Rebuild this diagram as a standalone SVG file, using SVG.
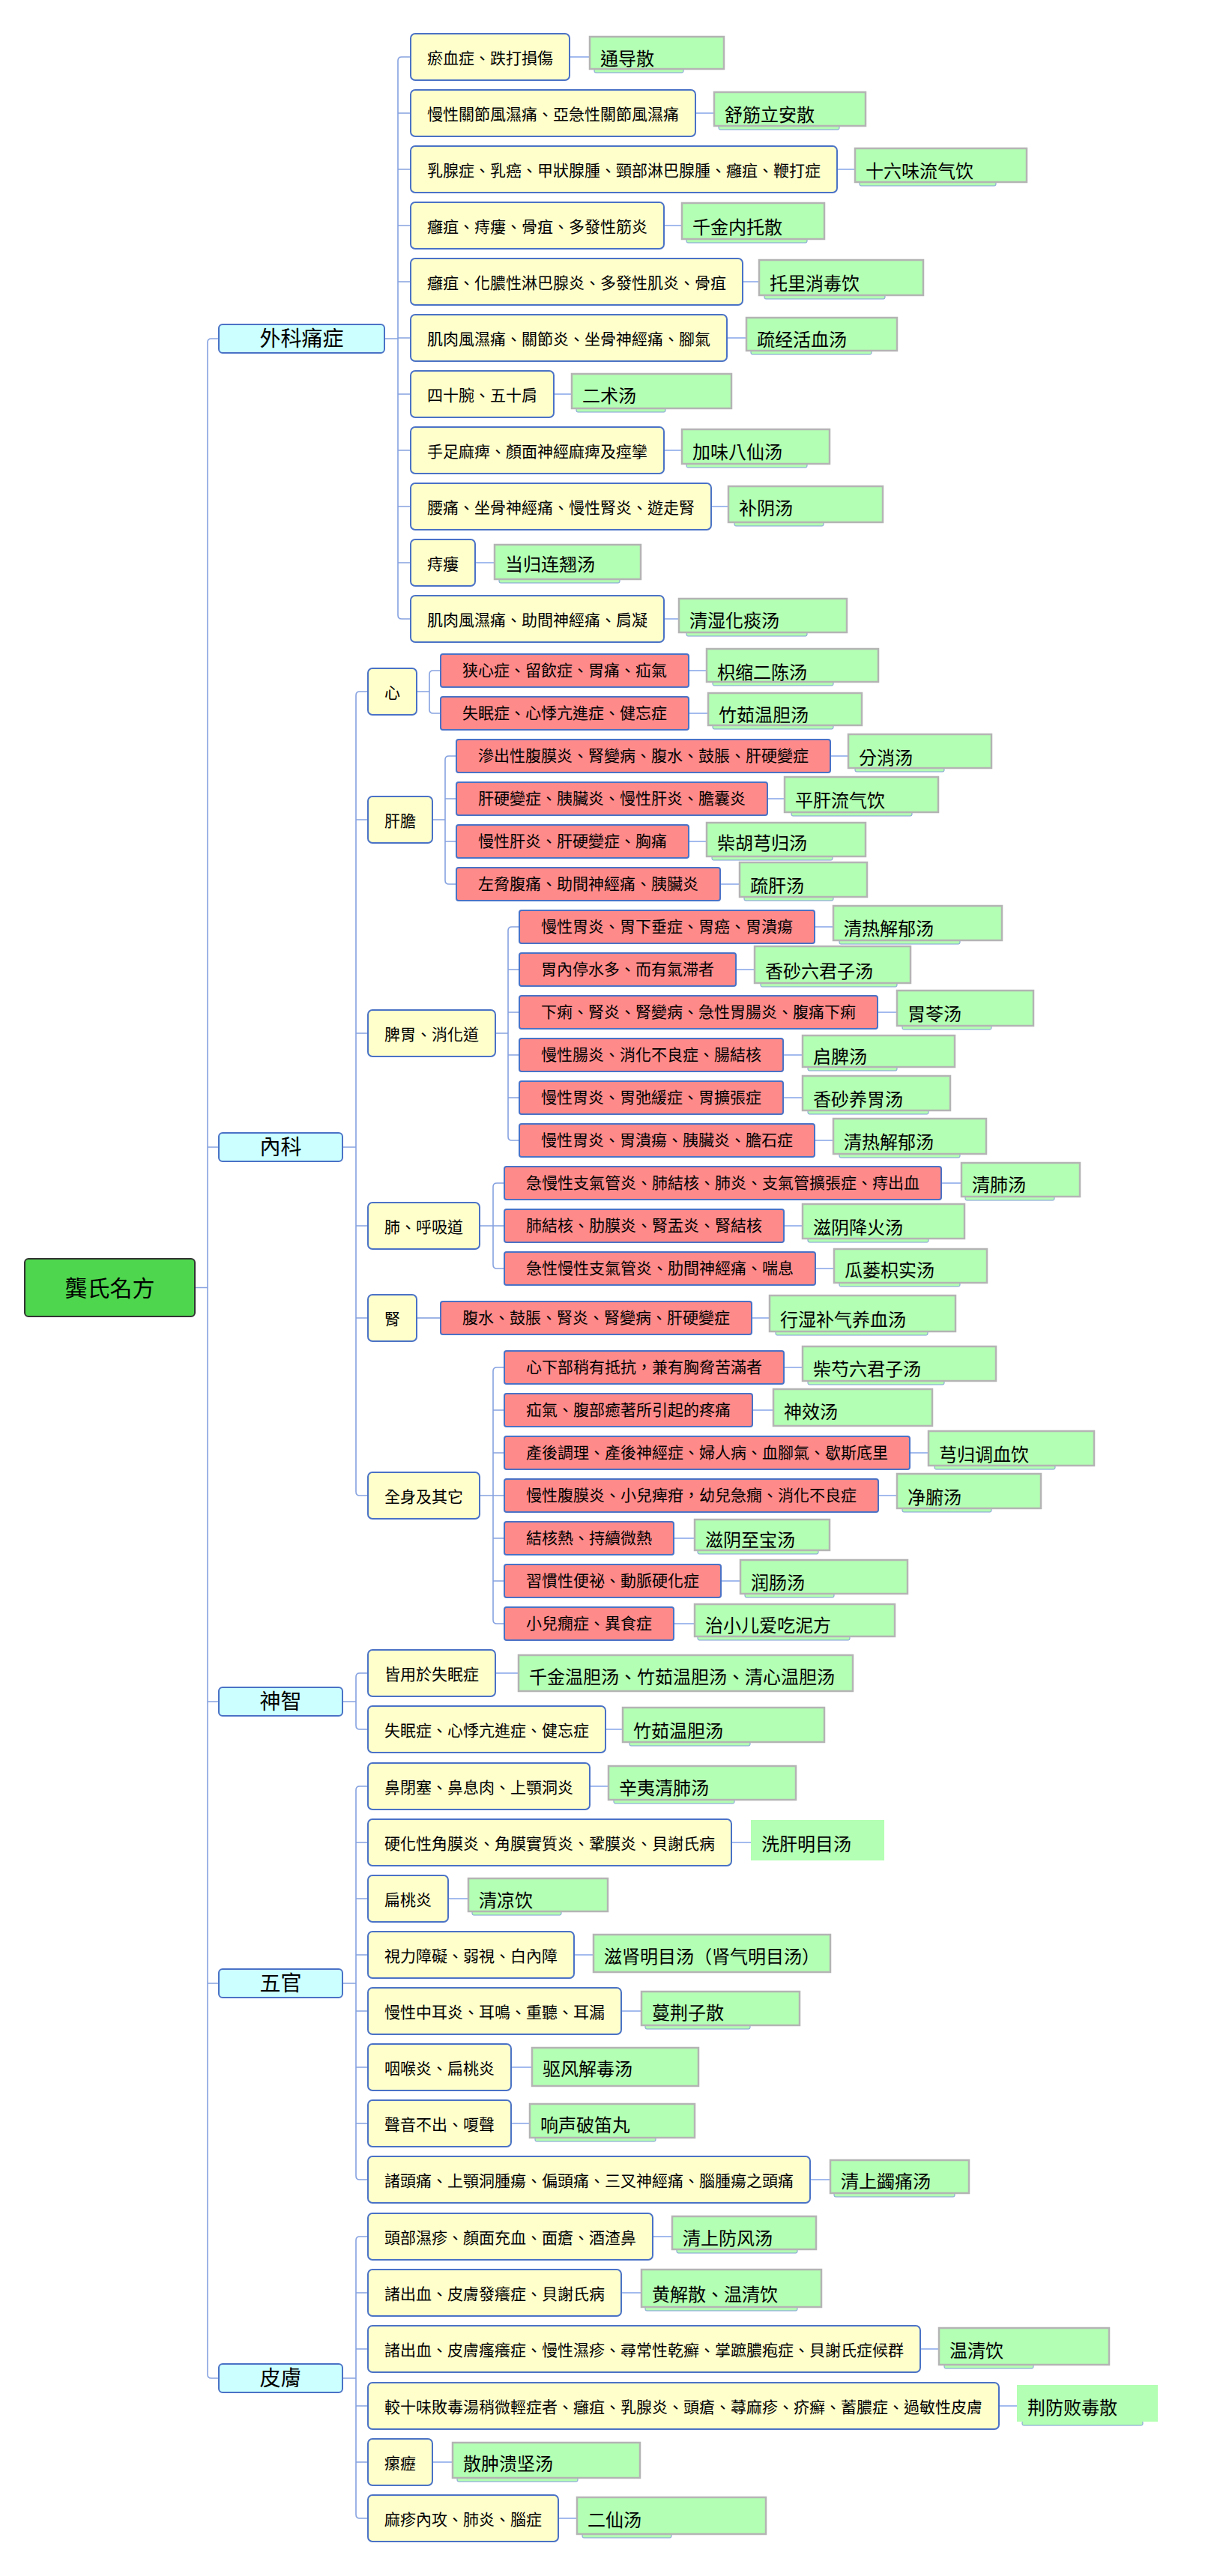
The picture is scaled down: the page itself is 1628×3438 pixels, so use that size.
<svg xmlns="http://www.w3.org/2000/svg" width="1628" height="3438" viewBox="0 0 1628 3438">
<style>
text{font-family:"Noto Sans CJK TC","Noto Sans CJK SC",sans-serif;fill:#000}
.f21{font-size:21px}.f24{font-size:24px}.f28{font-size:28px}.f30{font-size:30px}
.y{fill:#ffffcc;stroke:#4a72c6;stroke-width:2}
.r{fill:#ff8a8a;stroke:#4a72c6;stroke-width:2}
.cy{fill:#ccffff;stroke:#4a72c6;stroke-width:2}
.rt{fill:#4ed64e;stroke:#333;stroke-width:2}
.g{fill:#b3ffb3;stroke:#b4b4b4;stroke-width:2.5}
.gn{fill:#b3ffb3}
.bar{fill:#b3ffb3;stroke:#7f9bd6;stroke-width:1}
.c{fill:none;stroke:#86a2e0;stroke-width:1.6}
.lk{fill:none;stroke:#a3bbee;stroke-width:2}
.m{text-anchor:middle}
</style>
<rect width="1628" height="3438" fill="#fff"/>
<g id="connectors">
<path class="c" d="M292,452 H282 Q277,452 277,457 V3169 Q277,3174 282,3174 H292 M277,1531 H292 M277,2271 H292 M277,2647 H292 M260,1718.5 H277"/>
<path class="c" d="M548,76 H536 Q531,76 531,81 V821 Q531,826 536,826 H548 M531,151 H548 M531,226 H548 M531,301 H548 M531,376 H548 M531,451 H548 M531,526 H548 M531,601 H548 M531,676 H548 M531,751 H548 M513,452 H531"/>
<path class="c" d="M491,923 H480 Q475,923 475,928 V1991 Q475,1996 480,1996 H491 M475,1094 H491 M475,1379 H491 M475,1636 H491 M475,1759 H491 M457,1531 H475"/>
<path class="c" d="M588,895 H578 Q573,895 573,900 V947 Q573,952 578,952 H588 M556,923 H573"/>
<path class="c" d="M609,1009 H599 Q594,1009 594,1014 V1175 Q594,1180 599,1180 H609 M594,1066 H609 M594,1123 H609 M577,1094 H594"/>
<path class="c" d="M693,1237 H683 Q678,1237 678,1242 V1517 Q678,1522 683,1522 H693 M678,1294 H693 M678,1351 H693 M678,1408 H693 M678,1465 H693 M661,1379 H678"/>
<path class="c" d="M673,1579 H663 Q658,1579 658,1584 V1688 Q658,1693 663,1693 H673 M640,1636 H673"/>
<path class="c" d="M556,1759 H588"/>
<path class="c" d="M673,1825 H663 Q658,1825 658,1830 V2162 Q658,2167 663,2167 H673 M658,1882 H673 M658,1939 H673 M658,1996 H673 M658,2053 H673 M658,2110 H673 M640,1996 H658"/>
<path class="c" d="M491,2233 H480 Q475,2233 475,2238 V2303 Q475,2308 480,2308 H491 M457,2271 H475"/>
<path class="c" d="M491,2384 H480 Q475,2384 475,2389 V2904 Q475,2909 480,2909 H491 M475,2459 H491 M475,2534 H491 M475,2609 H491 M475,2684 H491 M475,2759 H491 M475,2834 H491 M457,2647 H475"/>
<path class="c" d="M491,2985 H480 Q475,2985 475,2990 V3356 Q475,3361 480,3361 H491 M475,3060 H491 M475,3135 H491 M475,3211 H491 M475,3286 H491 M457,3174 H475"/>
<path class="lk" d="M760,76 H787 M928,151 H953 M1117,226 H1141 M886,301 H910 M991,376 H1013 M970,451 H996 M739,526 H763 M886,601 H910 M949,676 H972 M634,751 H660 M886,826 H906"/>
<path class="lk" d="M919,895 H943 M919,952 H945 M1108,1009 H1132 M1024,1066 H1047 M919,1123 H943 M961,1180 H987 M1087,1237 H1112 M982,1294 H1007 M1171,1351 H1197 M1045,1408 H1071 M1045,1465 H1071 M1087,1522 H1112 M1256,1579 H1283 M1046,1636 H1071 M1088,1693 H1113 M1003,1759 H1027 M1046,1825 H1071 M1004,1882 H1032 M1214,1939 H1239 M1172,1996 H1197 M899,2053 H927 M962,2110 H988 M899,2167 H927"/>
<path class="lk" d="M661,2233 H692 M808,2308 H831 M787,2384 H812 M976,2459 H1002 M598,2534 H625 M766,2609 H792 M829,2684 H856 M682,2759 H710 M682,2834 H707 M1081,2909 H1108 M871,2985 H897 M829,3060 H856 M1228,3135 H1253 M1333,3211 H1357 M577,3286 H604 M745,3361 H770"/>
</g>
<g id="root"><rect class="rt" x="33" y="1680" width="227" height="77" rx="5"/><text class="f30 m" x="146.5" y="1729.5">龔氏名方</text></g>
<g id="waike"><rect class="cy" x="292" y="433" width="221" height="38" rx="5"/><text class="f28 m" x="402.5" y="462">外科痛症</text></g>
<g id="neike"><rect class="cy" x="292" y="1512" width="165" height="38" rx="5"/><text class="f28 m" x="374.5" y="1541">內科</text></g>
<g id="shenzhi"><rect class="cy" x="292" y="2252" width="165" height="38" rx="5"/><text class="f28 m" x="374.5" y="2281">神智</text></g>
<g id="wuguan"><rect class="cy" x="292" y="2628" width="165" height="38" rx="5"/><text class="f28 m" x="374.5" y="2657">五官</text></g>
<g id="pifu"><rect class="cy" x="292" y="3155" width="165" height="38" rx="5"/><text class="f28 m" x="374.5" y="3184">皮膚</text></g>

<g id="w0"><rect class="y" x="548" y="45" width="212" height="62" rx="6"/><text class="f21" x="570" y="85">瘀血症、跌打損傷</text></g>
<g id="w1"><rect class="y" x="548" y="120" width="380" height="62" rx="6"/><text class="f21" x="570" y="160">慢性關節風濕痛、亞急性關節風濕痛</text></g>
<g id="w2"><rect class="y" x="548" y="195" width="569" height="62" rx="6"/><text class="f21" x="570" y="235">乳腺症、乳癌、甲狀腺腫、頸部淋巴腺腫、癰疽、鞭打症</text></g>
<g id="w3"><rect class="y" x="548" y="270" width="338" height="62" rx="6"/><text class="f21" x="570" y="310">癰疽、痔瘻、骨疽、多發性筋炎</text></g>
<g id="w4"><rect class="y" x="548" y="345" width="443" height="62" rx="6"/><text class="f21" x="570" y="385">癰疽、化膿性淋巴腺炎、多發性肌炎、骨疽</text></g>
<g id="w5"><rect class="y" x="548" y="420" width="422" height="62" rx="6"/><text class="f21" x="570" y="460">肌肉風濕痛、關節炎、坐骨神經痛、腳氣</text></g>
<g id="w6"><rect class="y" x="548" y="495" width="191" height="62" rx="6"/><text class="f21" x="570" y="535">四十腕、五十肩</text></g>
<g id="w7"><rect class="y" x="548" y="570" width="338" height="62" rx="6"/><text class="f21" x="570" y="610">手足麻痺、顏面神經麻痺及痙攣</text></g>
<g id="w8"><rect class="y" x="548" y="645" width="401" height="62" rx="6"/><text class="f21" x="570" y="685">腰痛、坐骨神經痛、慢性腎炎、遊走腎</text></g>
<g id="w9"><rect class="y" x="548" y="720" width="86" height="62" rx="6"/><text class="f21" x="570" y="760">痔瘻</text></g>
<g id="w10"><rect class="y" x="548" y="795" width="338" height="62" rx="6"/><text class="f21" x="570" y="835">肌肉風濕痛、助間神經痛、肩凝</text></g>

<g id="wg0"><rect class="bar" x="793" y="91" width="119" height="6" rx="2"/><rect class="g" x="787" y="49" width="179" height="43"/><text class="f24" x="801" y="87">通导散</text></g>
<g id="wg1"><rect class="bar" x="959" y="167" width="161" height="6" rx="2"/><rect class="g" x="953" y="123" width="202" height="45"/><text class="f24" x="967" y="162">舒筋立安散</text></g>
<g id="wg2"><rect class="bar" x="1147" y="242" width="182" height="6" rx="2"/><rect class="g" x="1141" y="198" width="229" height="45"/><text class="f24" x="1155" y="237">十六味流气饮</text></g>
<g id="wg3"><rect class="bar" x="916" y="318" width="161" height="6" rx="2"/><rect class="g" x="910" y="271" width="190" height="48"/><text class="f24" x="924" y="312">千金内托散</text></g>
<g id="wg4"><rect class="bar" x="1020" y="393" width="161" height="6" rx="2"/><rect class="g" x="1013" y="347" width="219" height="47"/><text class="f24" x="1027" y="387">托里消毒饮</text></g>
<g id="wg5"><rect class="bar" x="1002" y="467" width="161" height="6" rx="2"/><rect class="g" x="996" y="424" width="201" height="44"/><text class="f24" x="1010" y="462">疏经活血汤</text></g>
<g id="wg6"><rect class="bar" x="769" y="544" width="119" height="6" rx="2"/><rect class="g" x="763" y="499" width="213" height="46"/><text class="f24" x="777" y="537">二术汤</text></g>
<g id="wg7"><rect class="bar" x="916" y="618" width="161" height="6" rx="2"/><rect class="g" x="910" y="573" width="197" height="46"/><text class="f24" x="924" y="612">加味八仙汤</text></g>
<g id="wg8"><rect class="bar" x="980" y="696" width="119" height="6" rx="2"/><rect class="g" x="972" y="649" width="206" height="48"/><text class="f24" x="986" y="687">补阴汤</text></g>
<g id="wg9"><rect class="bar" x="666" y="772" width="161" height="6" rx="2"/><rect class="g" x="660" y="727" width="195" height="46"/><text class="f24" x="674" y="762">当归连翘汤</text></g>
<g id="wg10"><rect class="bar" x="916" y="843" width="161" height="6" rx="2"/><rect class="g" x="906" y="799" width="224" height="45"/><text class="f24" x="920" y="837">清湿化痰汤</text></g>

<g id="n-xin"><rect class="y" x="491" y="892" width="65" height="62" rx="6"/><text class="f21" x="513" y="932">心</text></g>
<g id="n-gandan"><rect class="y" x="491" y="1063" width="86" height="62" rx="6"/><text class="f21" x="513" y="1103">肝膽</text></g>
<g id="n-piwei"><rect class="y" x="491" y="1348" width="170" height="62" rx="6"/><text class="f21" x="513" y="1388">脾胃、消化道</text></g>
<g id="n-fei"><rect class="y" x="491" y="1605" width="149" height="62" rx="6"/><text class="f21" x="513" y="1645">肺、呼吸道</text></g>
<g id="n-shen"><rect class="y" x="491" y="1728" width="65" height="62" rx="6"/><text class="f21" x="513" y="1768">腎</text></g>
<g id="n-quanshen"><rect class="y" x="491" y="1965" width="149" height="62" rx="6"/><text class="f21" x="513" y="2005">全身及其它</text></g>

<g id="r-xin1"><rect class="r" x="588" y="873" width="331" height="44" rx="3"/><text class="f21" x="617" y="902">狭心症、留飲症、胃痛、疝氣</text></g>
<g id="r-xin2"><rect class="r" x="588" y="930" width="331" height="44" rx="3"/><text class="f21" x="617" y="959">失眠症、心悸亢進症、健忘症</text></g>
<g id="r-gan1"><rect class="r" x="609" y="987" width="499" height="44" rx="3"/><text class="f21" x="638" y="1016">滲出性腹膜炎、腎變病、腹水、鼓脹、肝硬變症</text></g>
<g id="r-gan2"><rect class="r" x="609" y="1044" width="415" height="44" rx="3"/><text class="f21" x="638" y="1073">肝硬變症、胰臟炎、慢性肝炎、膽囊炎</text></g>
<g id="r-gan3"><rect class="r" x="609" y="1101" width="310" height="44" rx="3"/><text class="f21" x="638" y="1130">慢性肝炎、肝硬變症、胸痛</text></g>
<g id="r-gan4"><rect class="r" x="609" y="1158" width="352" height="44" rx="3"/><text class="f21" x="638" y="1187">左脅腹痛、助間神經痛、胰臟炎</text></g>
<g id="r-pi1"><rect class="r" x="693" y="1215" width="394" height="44" rx="3"/><text class="f21" x="722" y="1244">慢性胃炎、胃下垂症、胃癌、胃潰瘍</text></g>
<g id="r-pi2"><rect class="r" x="693" y="1272" width="289" height="44" rx="3"/><text class="f21" x="722" y="1301">胃內停水多、而有氣滞者</text></g>
<g id="r-pi3"><rect class="r" x="693" y="1329" width="478" height="44" rx="3"/><text class="f21" x="722" y="1358">下痢、腎炎、腎變病、急性胃腸炎、腹痛下痢</text></g>
<g id="r-pi4"><rect class="r" x="693" y="1386" width="352" height="44" rx="3"/><text class="f21" x="722" y="1415">慢性腸炎、消化不良症、腸結核</text></g>
<g id="r-pi5"><rect class="r" x="693" y="1443" width="352" height="44" rx="3"/><text class="f21" x="722" y="1472">慢性胃炎、胃弛緩症、胃擴張症</text></g>
<g id="r-pi6"><rect class="r" x="693" y="1500" width="394" height="44" rx="3"/><text class="f21" x="722" y="1529">慢性胃炎、胃潰瘍、胰臟炎、膽石症</text></g>
<g id="r-fei1"><rect class="r" x="673" y="1557" width="583" height="44" rx="3"/><text class="f21" x="702" y="1586">急慢性支氣管炎、肺結核、肺炎、支氣管擴張症、痔出血</text></g>
<g id="r-fei2"><rect class="r" x="673" y="1614" width="373" height="44" rx="3"/><text class="f21" x="702" y="1643">肺結核、肋膜炎、腎盂炎、腎結核</text></g>
<g id="r-fei3"><rect class="r" x="673" y="1671" width="415" height="44" rx="3"/><text class="f21" x="702" y="1700">急性慢性支氣管炎、肋間神經痛、喘息</text></g>
<g id="r-shen1"><rect class="r" x="588" y="1737" width="415" height="44" rx="3"/><text class="f21" x="617" y="1766">腹水、鼓脹、腎炎、腎變病、肝硬變症</text></g>
<g id="r-qs1"><rect class="r" x="673" y="1803" width="373" height="44" rx="3"/><text class="f21" x="702" y="1832">心下部稍有抵抗，兼有胸脅苦滿者</text></g>
<g id="r-qs2"><rect class="r" x="673" y="1860" width="331" height="44" rx="3"/><text class="f21" x="702" y="1889">疝氣、腹部癒著所引起的疼痛</text></g>
<g id="r-qs3"><rect class="r" x="673" y="1917" width="541" height="44" rx="3"/><text class="f21" x="702" y="1946">產後調理、產後神經症、婦人病、血腳氣、歇斯底里</text></g>
<g id="r-qs4"><rect class="r" x="673" y="1974" width="499" height="44" rx="3"/><text class="f21" x="702" y="2003">慢性腹膜炎、小兒痺疳，幼兒急癇、消化不良症</text></g>
<g id="r-qs5"><rect class="r" x="673" y="2031" width="226" height="44" rx="3"/><text class="f21" x="702" y="2060">結核熱、持續微熱</text></g>
<g id="r-qs6"><rect class="r" x="673" y="2088" width="289" height="44" rx="3"/><text class="f21" x="702" y="2117">習慣性便祕、動脈硬化症</text></g>
<g id="r-qs7"><rect class="r" x="673" y="2145" width="226" height="44" rx="3"/><text class="f21" x="702" y="2174">小兒癇症、異食症</text></g>

<g id="g-xin1"><rect class="bar" x="951" y="909" width="161" height="6" rx="2"/><rect class="g" x="943" y="866" width="229" height="44"/><text class="f24" x="957" y="906">枳缩二陈汤</text></g>
<g id="g-xin2"><rect class="bar" x="951" y="967" width="161" height="6" rx="2"/><rect class="g" x="945" y="925" width="205" height="43"/><text class="f24" x="959" y="963">竹茹温胆汤</text></g>
<g id="g-gan1"><rect class="bar" x="1141" y="1024" width="119" height="6" rx="2"/><rect class="g" x="1132" y="980" width="191" height="45"/><text class="f24" x="1146" y="1020">分消汤</text></g>
<g id="g-gan2"><rect class="bar" x="1056" y="1083" width="161" height="6" rx="2"/><rect class="g" x="1047" y="1037" width="205" height="47"/><text class="f24" x="1061" y="1077">平肝流气饮</text></g>
<g id="g-gan3"><rect class="bar" x="950" y="1142" width="161" height="6" rx="2"/><rect class="g" x="943" y="1098" width="212" height="45"/><text class="f24" x="957" y="1134">柴胡芎归汤</text></g>
<g id="g-gan4"><rect class="bar" x="993" y="1196" width="119" height="6" rx="2"/><rect class="g" x="987" y="1151" width="170" height="46"/><text class="f24" x="1001" y="1191">疏肝汤</text></g>
<g id="g-pi1"><rect class="bar" x="1120" y="1254" width="161" height="6" rx="2"/><rect class="g" x="1112" y="1209" width="225" height="46"/><text class="f24" x="1126" y="1248">清热解郁汤</text></g>
<g id="g-pi2"><rect class="bar" x="1015" y="1311" width="182" height="6" rx="2"/><rect class="g" x="1007" y="1263" width="208" height="49"/><text class="f24" x="1021" y="1305">香砂六君子汤</text></g>
<g id="g-pi3"><rect class="bar" x="1204" y="1368" width="119" height="6" rx="2"/><rect class="g" x="1197" y="1322" width="182" height="47"/><text class="f24" x="1211" y="1362">胃苓汤</text></g>
<g id="g-pi4"><rect class="bar" x="1078" y="1423" width="119" height="6" rx="2"/><rect class="g" x="1071" y="1382" width="203" height="42"/><text class="f24" x="1085" y="1419">启脾汤</text></g>
<g id="g-pi5"><rect class="bar" x="1078" y="1481" width="161" height="6" rx="2"/><rect class="g" x="1071" y="1436" width="197" height="46"/><text class="f24" x="1085" y="1476">香砂养胃汤</text></g>
<g id="g-pi6"><rect class="bar" x="1120" y="1539" width="161" height="6" rx="2"/><rect class="g" x="1112" y="1493" width="204" height="47"/><text class="f24" x="1126" y="1533">清热解郁汤</text></g>
<g id="g-fei1"><rect class="bar" x="1288" y="1596" width="119" height="6" rx="2"/><rect class="g" x="1283" y="1552" width="158" height="45"/><text class="f24" x="1297" y="1590">清肺汤</text></g>
<g id="g-fei2"><rect class="bar" x="1078" y="1652" width="161" height="6" rx="2"/><rect class="g" x="1071" y="1607" width="216" height="46"/><text class="f24" x="1085" y="1647">滋阴降火汤</text></g>
<g id="g-fei3"><rect class="bar" x="1120" y="1711" width="161" height="6" rx="2"/><rect class="g" x="1113" y="1667" width="204" height="45"/><text class="f24" x="1127" y="1704">瓜蒌枳实汤</text></g>
<g id="g-shen1"><rect class="bar" x="1035" y="1776" width="203" height="6" rx="2"/><rect class="g" x="1027" y="1729" width="248" height="48"/><text class="f24" x="1041" y="1770">行湿补气养血汤</text></g>
<g id="g-qs1"><rect class="bar" x="1078" y="1842" width="182" height="6" rx="2"/><rect class="g" x="1071" y="1797" width="258" height="46"/><text class="f24" x="1085" y="1836">柴芍六君子汤</text></g>
<g id="g-qs2"><rect class="g" x="1032" y="1854" width="212" height="49"/><text class="f24" x="1046" y="1893">神效汤</text></g>
<g id="g-qs3"><rect class="bar" x="1247" y="1955" width="161" height="6" rx="2"/><rect class="g" x="1239" y="1910" width="221" height="46"/><text class="f24" x="1253" y="1950">芎归调血饮</text></g>
<g id="g-qs4"><rect class="bar" x="1204" y="2012" width="119" height="6" rx="2"/><rect class="g" x="1197" y="1967" width="192" height="46"/><text class="f24" x="1211" y="2007">净腑汤</text></g>
<g id="g-qs5"><rect class="bar" x="931" y="2068" width="161" height="6" rx="2"/><rect class="g" x="927" y="2028" width="180" height="41"/><text class="f24" x="941" y="2064">滋阴至宝汤</text></g>
<g id="g-qs6"><rect class="bar" x="994" y="2126" width="119" height="6" rx="2"/><rect class="g" x="988" y="2082" width="223" height="45"/><text class="f24" x="1002" y="2121">润肠汤</text></g>
<g id="g-qs7"><rect class="bar" x="931" y="2183" width="203" height="6" rx="2"/><rect class="g" x="927" y="2141" width="267" height="43"/><text class="f24" x="941" y="2178">治小儿爱吃泥方</text></g>

<g id="s1"><rect class="y" x="491" y="2202" width="170" height="62" rx="6"/><text class="f21" x="513" y="2242">皆用於失眠症</text></g>
<g id="s2"><rect class="y" x="491" y="2277" width="317" height="62" rx="6"/><text class="f21" x="513" y="2317">失眠症、心悸亢進症、健忘症</text></g>
<g id="sg1"><rect class="g" x="692" y="2209" width="446" height="48"/><text class="f24" x="706" y="2247">千金温胆汤、竹茹温胆汤、清心温胆汤</text></g>
<g id="sg2"><rect class="bar" x="840" y="2324" width="161" height="6" rx="2"/><rect class="g" x="831" y="2279" width="269" height="46"/><text class="f24" x="845" y="2319">竹茹温胆汤</text></g>

<g id="o1"><rect class="y" x="491" y="2353" width="296" height="62" rx="6"/><text class="f21" x="513" y="2393">鼻閉塞、鼻息肉、上顎洞炎</text></g>
<g id="o2"><rect class="y" x="491" y="2428" width="485" height="62" rx="6"/><text class="f21" x="513" y="2468">硬化性角膜炎、角膜實質炎、鞏膜炎、貝謝氏病</text></g>
<g id="o3"><rect class="y" x="491" y="2503" width="107" height="62" rx="6"/><text class="f21" x="513" y="2543">扁桃炎</text></g>
<g id="o4"><rect class="y" x="491" y="2578" width="275" height="62" rx="6"/><text class="f21" x="513" y="2618">視力障礙、弱視、白內障</text></g>
<g id="o5"><rect class="y" x="491" y="2653" width="338" height="62" rx="6"/><text class="f21" x="513" y="2693">慢性中耳炎、耳鳴、重聽、耳漏</text></g>
<g id="o6"><rect class="y" x="491" y="2728" width="191" height="62" rx="6"/><text class="f21" x="513" y="2768">咽喉炎、扁桃炎</text></g>
<g id="o7"><rect class="y" x="491" y="2803" width="191" height="62" rx="6"/><text class="f21" x="513" y="2843">聲音不出、嗄聲</text></g>
<g id="o8"><rect class="y" x="491" y="2878" width="590" height="62" rx="6"/><text class="f21" x="513" y="2918">諸頭痛、上顎洞腫瘍、偏頭痛、三叉神經痛、腦腫瘍之頭痛</text></g>
<g id="og1"><rect class="bar" x="819" y="2401" width="161" height="6" rx="2"/><rect class="g" x="812" y="2357" width="250" height="45"/><text class="f24" x="826" y="2395">辛夷清肺汤</text></g>
<g id="og2"><rect class="gn" x="1002" y="2429" width="178" height="54"/><text class="f24" x="1016" y="2470">洗肝明目汤</text></g>
<g id="og3"><rect class="bar" x="630" y="2550" width="119" height="6" rx="2"/><rect class="g" x="625" y="2507" width="186" height="44"/><text class="f24" x="639" y="2545">清凉饮</text></g>
<g id="og4"><rect class="g" x="792" y="2582" width="316" height="50"/><text class="f24" x="806" y="2620">滋肾明目汤（肾气明目汤）</text></g>
<g id="og5"><rect class="bar" x="861" y="2702" width="140" height="6" rx="2"/><rect class="g" x="856" y="2658" width="211" height="45"/><text class="f24" x="870" y="2695">蔓荆子散</text></g>
<g id="og6"><rect class="g" x="710" y="2733" width="222" height="51"/><text class="f24" x="724" y="2770">驱风解毒汤</text></g>
<g id="og7"><rect class="bar" x="714" y="2852" width="161" height="6" rx="2"/><rect class="g" x="707" y="2808" width="220" height="45"/><text class="f24" x="721" y="2845">响声破笛丸</text></g>
<g id="og8"><rect class="bar" x="1113" y="2926" width="161" height="6" rx="2"/><rect class="g" x="1108" y="2883" width="185" height="44"/><text class="f24" x="1122" y="2920">清上蠲痛汤</text></g>

<g id="p1"><rect class="y" x="491" y="2954" width="380" height="62" rx="6"/><text class="f21" x="513" y="2994">頭部濕疹、顏面充血、面瘡、酒渣鼻</text></g>
<g id="p2"><rect class="y" x="491" y="3029" width="338" height="62" rx="6"/><text class="f21" x="513" y="3069">諸出血、皮膚發癢症、貝謝氏病</text></g>
<g id="p3"><rect class="y" x="491" y="3104" width="737" height="62" rx="6"/><text class="f21" x="513" y="3144">諸出血、皮膚瘙癢症、慢性濕疹、尋常性乾癬、掌蹠膿疱症、貝謝氏症候群</text></g>
<g id="p4"><rect class="y" x="491" y="3180" width="842" height="62" rx="6"/><text class="f21" x="513" y="3220">較十味敗毒湯稍微輕症者、癰疽、乳腺炎、頭瘡、蕁麻疹、疥癬、蓄膿症、過敏性皮膚</text></g>
<g id="p5"><rect class="y" x="491" y="3255" width="86" height="62" rx="6"/><text class="f21" x="513" y="3295">瘰癧</text></g>
<g id="p6"><rect class="y" x="491" y="3330" width="254" height="62" rx="6"/><text class="f21" x="513" y="3370">麻疹內攻、肺炎、腦症</text></g>
<g id="pg1"><rect class="bar" x="903" y="3001" width="161" height="6" rx="2"/><rect class="g" x="897" y="2958" width="192" height="44"/><text class="f24" x="911" y="2996">清上防风汤</text></g>
<g id="pg2"><rect class="bar" x="861" y="3078" width="203" height="6" rx="2"/><rect class="g" x="856" y="3029" width="240" height="50"/><text class="f24" x="870" y="3071">黄解散、温清饮</text></g>
<g id="pg3"><rect class="bar" x="1260" y="3155" width="119" height="6" rx="2"/><rect class="g" x="1253" y="3107" width="227" height="49"/><text class="f24" x="1267" y="3146">温清饮</text></g>
<g id="pg4"><rect class="bar" x="1364" y="3231" width="161" height="6" rx="2"/><rect class="gn" x="1357" y="3183" width="188" height="49"/><text class="f24" x="1371" y="3222">荆防败毒散</text></g>
<g id="pg5"><rect class="bar" x="610" y="3306" width="161" height="6" rx="2"/><rect class="g" x="604" y="3260" width="250" height="47"/><text class="f24" x="618" y="3297">散肿溃坚汤</text></g>
<g id="pg6"><rect class="bar" x="777" y="3381" width="119" height="6" rx="2"/><rect class="g" x="770" y="3333" width="252" height="49"/><text class="f24" x="784" y="3372">二仙汤</text></g>
</svg>
